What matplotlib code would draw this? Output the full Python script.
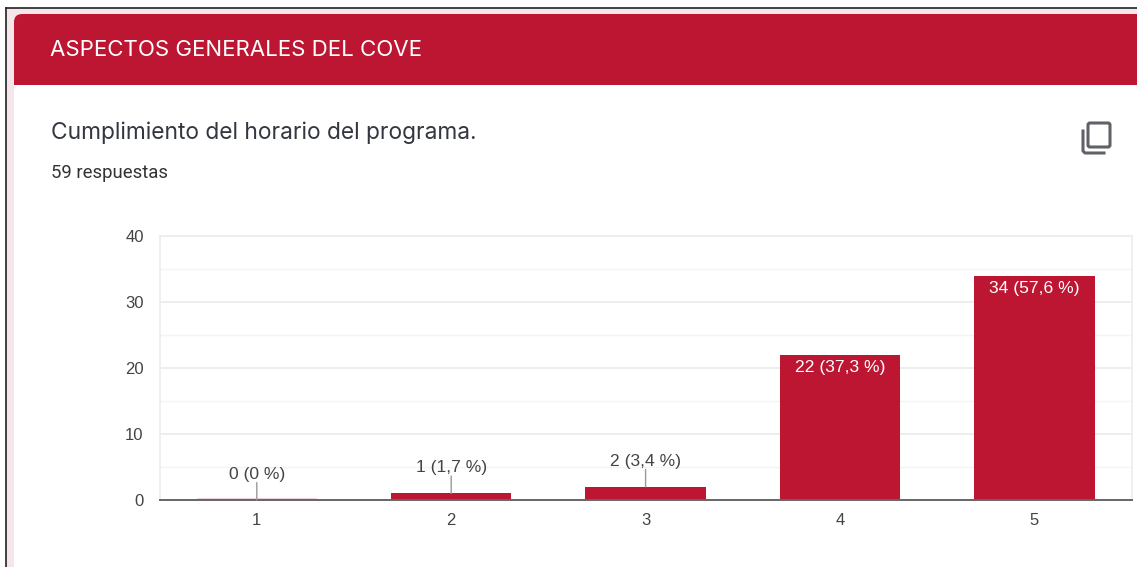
import matplotlib
matplotlib.use("Agg")
import matplotlib.pyplot as plt
from matplotlib.patches import FancyBboxPatch, Rectangle

categories = ["1", "2", "3", "4", "5"]
counts = [0, 1, 2, 22, 34]
labels = ["0 (0 %)", "1 (1,7 %)", "2 (3,4 %)", "22 (37,3 %)", "34 (57,6 %)"]
y_ticks = [0, 10, 20, 30, 40]
y_minor = [5, 15, 25, 35]

header = "ASPECTOS GENERALES DEL COVE"
question = "Cumplimiento del horario del programa."
answers = "59 respuestas"

RED = "#bd1633"
W, H = 1137, 567

fig = plt.figure(figsize=(W / 100, H / 100), dpi=100, facecolor="white")

# page decoration, in pixels from the top left
bg = fig.add_axes([0, 0, 1, 1])
bg.set_xlim(0, W)
bg.set_ylim(H, 0)
bg.axis("off")
bg.add_patch(Rectangle((6, 8), W, H, fc="#f6e6ea", ec="none"))
bg.plot([6, W], [8, 8], color="#222222", lw=1.2)
bg.plot([6, 6], [8, H], color="#222222", lw=1.2)
bg.add_patch(Rectangle((14, 60), W, H, fc="white", ec="none"))
bg.add_patch(Rectangle((30, 14), W, 70.5, fc=RED, ec="none"))
bg.add_patch(Rectangle((14, 30), 40, 54.5, fc=RED, ec="none"))
bg.add_patch(FancyBboxPatch((14, 14), 60, 50, boxstyle="round,pad=0,rounding_size=8",
                            fc=RED, ec="none"))
bg.text(50, 50, header, color="white", fontsize=16, family="Inter", va="center", ha="left")
bg.text(51, 133, question, color="#333740", fontsize=16.4, family="Inter", va="center", ha="left")
bg.text(51, 173, answers, color="#333333", fontsize=13.3, family="Roboto", va="center", ha="left")

# copy icon
bg.add_patch(FancyBboxPatch((1088, 123), 22, 24, boxstyle="round,pad=0,rounding_size=2",
                            fc="none", ec="#5f6368", lw=2.2))
bg.plot([1083, 1083, 1085, 1104], [131, 151, 153, 153], color="#5f6368", lw=2.2)

# chart
ax = fig.add_axes([159.6 / W, 1 - 500 / H, (1131 - 159) / W, (500 - 236) / H])
ax.patch.set_alpha(0)
x = list(range(1, len(categories) + 1))
ax.bar(x, counts, width=0.62, color=RED, zorder=3)
ax.bar(x[0], 0.3, width=0.62, color=RED, alpha=0.2, zorder=3)
ax.set_xlim(0.5, 5.5)
ax.set_ylim(0, 40)
ax.set_xticks(x)
ax.set_xticklabels(categories)
ax.set_yticks(y_ticks)
ax.set_yticks(y_minor, minor=True)
ax.grid(axis="y", which="major", color="#ebebeb", lw=1.2, zorder=0)
ax.grid(axis="y", which="minor", color="#f4f4f4", lw=1, zorder=0)
ax.tick_params(axis="both", which="both", length=0)
ax.tick_params(axis="both", labelsize=12, labelcolor="#444444", labelfontfamily="Liberation Sans")
ax.tick_params(axis="x", pad=9.5)
ax.tick_params(axis="y", pad=11.5)
for s in ["top", "right", "left"]:
    ax.spines[s].set_color("#ececec")
    ax.spines[s].set_linewidth(1.2)
ax.spines["bottom"].set_color("#666666")
ax.spines["bottom"].set_linewidth(1.4)
ax.spines["bottom"].set_zorder(5)

for xi, c, lab in zip(x, counts, labels):
    if c > 5:
        ax.annotate(lab, (xi, c), xytext=(0, -9.5), textcoords="offset points", ha="center",
                    va="center", color="white", fontsize=12.6, family="Liberation Sans", zorder=6)
    else:
        ax.annotate("", (xi, c), xytext=(0, 12.5), textcoords="offset points",
                    arrowprops=dict(arrowstyle="-", color="#999999", lw=1, shrinkA=0, shrinkB=0),
                    zorder=6)
        ax.annotate(lab, (xi, c), xytext=(0, 18.5), textcoords="offset points", ha="center",
                    va="center", color="#444444", fontsize=12.6, family="Liberation Sans", zorder=6)

fig.savefig("out.png", dpi=100)
